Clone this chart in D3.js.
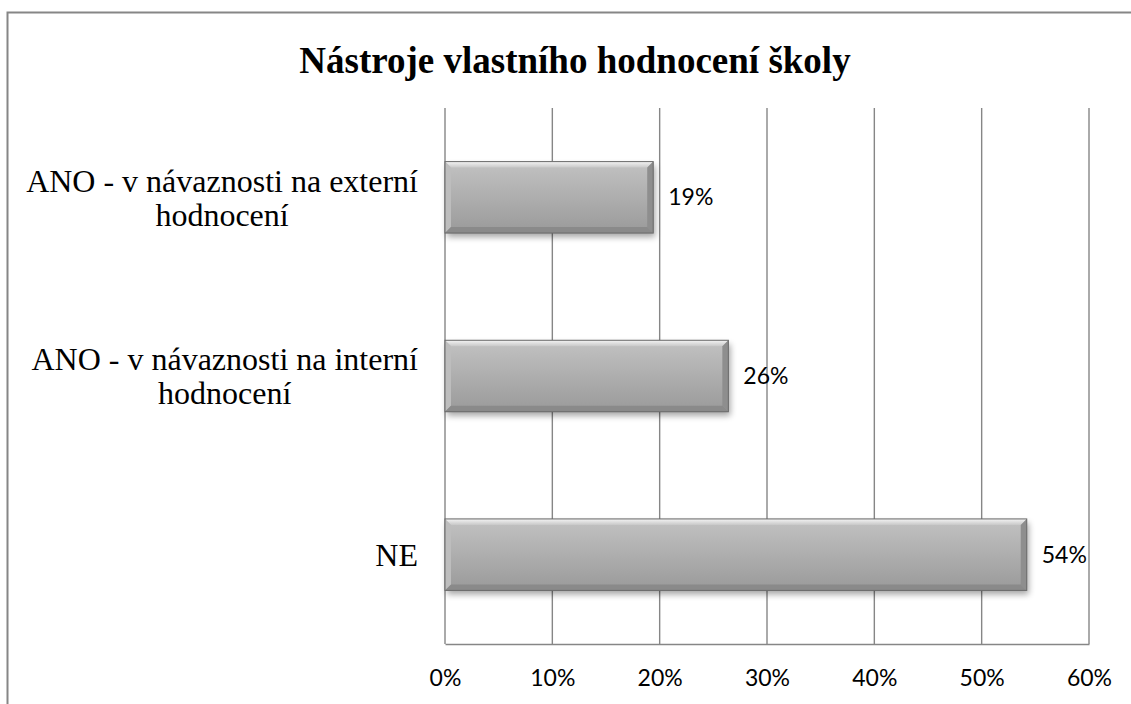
<!DOCTYPE html>
<html>
<head>
<meta charset="utf-8">
<script src="https://cdn.jsdelivr.net/npm/d3@7"></script>
<style>
  body { margin: 0; background: #fff; }
  svg { display: block; }
</style>
</head>
<body>
<div id="chart"></div>
<script>
const categories = [
  ["ANO - v návaznosti na externí", "hodnocení"],
  ["ANO - v návaznosti na interní", "hodnocení"],
  ["NE"]
];
const values = [19.4, 26.4, 54.2];
const valueLabels = ["19%", "26%", "54%"];
const xTicks = [0, 10, 20, 30, 40, 50, 60];
const title = "Nástroje vlastního hodnocení školy";

const width = 1131, height = 704;
const margin = { left: 445, right: 42, top: 108, bottom: 60 };

const svg = d3.select("#chart").append("svg")
  .attr("width", width)
  .attr("height", height);

const defs = svg.append("defs");

// bar body gradient
const g1 = defs.append("linearGradient").attr("id", "barFill")
  .attr("x1", 0).attr("y1", 0).attr("x2", 0).attr("y2", 1);
g1.append("stop").attr("offset", "0%").attr("stop-color", "#c2c2c2");
g1.append("stop").attr("offset", "100%").attr("stop-color", "#9a9a9a");

const g2 = defs.append("linearGradient").attr("id", "topBevel")
  .attr("x1", 0).attr("y1", 0).attr("x2", 0).attr("y2", 1);
g2.append("stop").attr("offset", "0%").attr("stop-color", "#f4f4f4");
g2.append("stop").attr("offset", "100%").attr("stop-color", "#c8c8c8");

const shadow = defs.append("filter").attr("id", "shadow")
  .attr("x", "-10%").attr("y", "-20%").attr("width", "130%").attr("height", "160%");
shadow.append("feGaussianBlur").attr("stdDeviation", 3);

// outer chart border
svg.append("rect")
  .attr("x", 7.5).attr("y", 12.5)
  .attr("width", 1300).attr("height", 900)
  .attr("fill", "none")
  .attr("stroke", "#868686")
  .attr("stroke-width", 2);

const x = d3.scaleLinear()
  .domain([0, 60])
  .range([margin.left, width - margin.right]);

const y = d3.scaleBand()
  .domain(d3.range(categories.length))
  .range([margin.top, height - margin.bottom])
  .paddingInner(0.6)
  .paddingOuter(0.3);

// gridlines
svg.append("g")
  .selectAll("line")
  .data(xTicks)
  .join("line")
  .attr("x1", d => x(d)).attr("x2", d => x(d))
  .attr("y1", margin.top).attr("y2", height - margin.bottom)
  .attr("stroke", "#868686")
  .attr("stroke-width", 1.4);

// bottom axis
const xAxis = d3.axisBottom(x)
  .tickValues(xTicks)
  .tickFormat(d => d + "%")
  .tickSize(0)
  .tickPadding(26);

const ax = svg.append("g")
  .attr("transform", `translate(0,${height - margin.bottom})`)
  .call(xAxis);
ax.select(".domain").attr("stroke", "#868686").attr("stroke-width", 1.4);
ax.selectAll("text")
  .attr("font-family", "Lato, 'Open Sans', sans-serif")
  .attr("font-size", 23)
  .attr("fill", "#000");

// bars
const bev = 6;
const bars = svg.append("g")
  .selectAll("g")
  .data(values)
  .join("g");

bars.append("rect")
  .attr("x", x(0) + 2)
  .attr("y", (d, i) => y(i) + 4)
  .attr("width", d => x(d) - x(0))
  .attr("height", y.bandwidth())
  .attr("fill", "#000")
  .attr("opacity", 0.35)
  .attr("filter", "url(#shadow)");

bars.append("rect")
  .attr("x", x(0))
  .attr("y", (d, i) => y(i))
  .attr("width", d => x(d) - x(0))
  .attr("height", y.bandwidth())
  .attr("fill", "url(#barFill)");

// bevel pieces
bars.append("path")
  .attr("d", (d, i) => {
    const x0 = x(0), x1 = x(d), y0 = y(i);
    return `M${x0},${y0}L${x1},${y0}L${x1 - bev},${y0 + bev}L${x0 + bev},${y0 + bev}Z`;
  })
  .attr("fill", "url(#topBevel)");

bars.append("path")
  .attr("d", (d, i) => {
    const x0 = x(0), y0 = y(i), y1 = y(i) + y.bandwidth();
    return `M${x0},${y0}L${x0 + bev},${y0 + bev}L${x0 + bev},${y1 - bev}L${x0},${y1}Z`;
  })
  .attr("fill", "#bdbdbd");

bars.append("path")
  .attr("d", (d, i) => {
    const x1 = x(d), y0 = y(i), y1 = y(i) + y.bandwidth();
    return `M${x1},${y0}L${x1},${y1}L${x1 - bev},${y1 - bev}L${x1 - bev},${y0 + bev}Z`;
  })
  .attr("fill", "#8e8e8e");

bars.append("path")
  .attr("d", (d, i) => {
    const x0 = x(0), x1 = x(d), y1 = y(i) + y.bandwidth();
    return `M${x0},${y1}L${x1},${y1}L${x1 - bev},${y1 - bev}L${x0 + bev},${y1 - bev}Z`;
  })
  .attr("fill", "#8a8a8a");

bars.append("rect")
  .attr("x", x(0))
  .attr("y", (d, i) => y(i))
  .attr("width", d => x(d) - x(0))
  .attr("height", y.bandwidth())
  .attr("fill", "none")
  .attr("stroke", "#6a6a6a")
  .attr("stroke-width", 1);

// value labels
bars.append("text")
  .attr("x", d => x(d) + 15)
  .attr("y", (d, i) => y(i) + y.bandwidth() / 2)
  .attr("dy", "0.35em")
  .attr("font-family", "Lato, 'Open Sans', sans-serif")
  .attr("font-size", 23)
  .attr("fill", "#000")
  .text((d, i) => valueLabels[i]);

// category labels: block right-aligned next to the axis, lines centred in the block
const lineH = 34;
const labelRight = 418;
svg.append("g")
  .selectAll("text")
  .data(categories)
  .join("text")
  .attr("text-anchor", "middle")
  .attr("font-family", "'Liberation Serif', 'Times New Roman', serif")
  .attr("font-size", 32)
  .attr("fill", "#000")
  .each(function (lines, i) {
    const cy = y(i) + y.bandwidth() / 2;
    const t = d3.select(this);
    const startY = cy - (lines.length - 1) * lineH / 2;
    const spans = lines.map((ln, k) => t.append("tspan")
      .attr("y", startY + k * lineH)
      .attr("dy", "0.35em")
      .text(ln));
    const maxW = d3.max(spans, s => s.node().getComputedTextLength());
    spans.forEach(s => s.attr("x", labelRight - maxW / 2));
  });

// title
svg.append("text")
  .attr("x", 575)
  .attr("y", 73)
  .attr("text-anchor", "middle")
  .attr("font-family", "'Liberation Serif', 'Times New Roman', serif")
  .attr("font-weight", "bold")
  .attr("font-size", 37)
  .attr("fill", "#000")
  .text(title);
</script>
</body>
</html>
